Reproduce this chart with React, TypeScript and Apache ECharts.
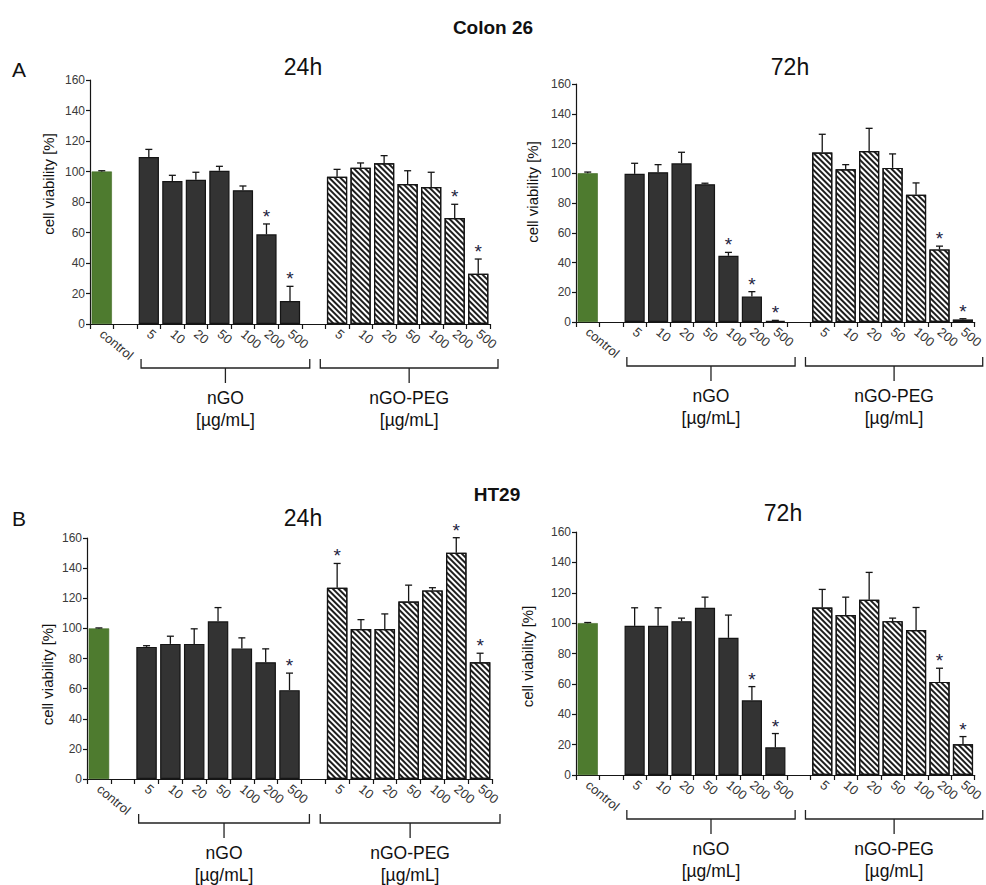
import React, { useEffect, useRef } from 'react';
import * as echarts from 'echarts';

// ---------- data ----------
const categories = ['control', '', '5', '10', '20', '50', '100', '200', '500', '', '5', '10', '20', '50', '100', '200', '500'];
const groupNames = ['nGO', 'nGO-PEG'];
const unitLabel = '[µg/mL]';
const yTicks = [0, 20, 40, 60, 80, 100, 120, 140, 160];

// Colon 26, 24h
const colon24Control = [100, 0.5];
const colon24NGO = [109.5, 93.8, 94.6, 100.5, 87.7, 58.8, 15.1];
const colon24NGOErr = [5, 3.7, 4.9, 2.9, 2.8, 6.8, 9.6];
const colon24NGOSig = [0, 0, 0, 0, 0, 1, 1];
const colon24PEG = [96.6, 102.5, 105.4, 91.8, 89.8, 69.5, 33];
const colon24PEGErr = [4.8, 3.1, 5, 8.7, 9.7, 9, 9.6];
const colon24PEGSig = [0, 0, 0, 0, 0, 1, 1];

// Colon 26, 72h
const colon72Control = [100, 0.8];
const colon72NGO = [99.6, 100.7, 106.7, 92.6, 44.5, 17.2, 0.8];
const colon72NGOErr = [7.1, 5.1, 7.4, 0.7, 2.3, 3.2, 0.3];
const colon72NGOSig = [0, 0, 0, 0, 1, 1, 1];
const colon72PEG = [113.9, 102.7, 115, 103.6, 85.5, 48.8, 1.6];
const colon72PEGErr = [12.3, 3.1, 15.2, 9.4, 8, 2.2, 0.6];
const colon72PEGSig = [0, 0, 0, 0, 0, 1, 1];

// HT29, 24h
const ht24Control = [100, 0.3];
const ht24NGO = [87.7, 89.7, 89.7, 104.7, 86.6, 77.5, 59];
const ht24NGOErr = [0.8, 5.1, 10, 9.1, 7.1, 8.9, 11.3];
const ht24NGOSig = [0, 0, 0, 0, 0, 0, 1];
const ht24PEG = [126.9, 99.6, 99.6, 117.8, 125.2, 150.2, 77.5];
const ht24PEGErr = [16.2, 6.2, 10, 10.9, 1.8, 10, 6];
const ht24PEGSig = [1, 0, 0, 0, 0, 1, 1];

// HT29, 72h
const ht72Control = [100, 0.4];
const ht72NGO = [98.2, 98.2, 101.3, 110.1, 90.3, 49.2, 18.2];
const ht72NGOErr = [11.9, 11.9, 2, 7, 15, 9, 9.1];
const ht72NGOSig = [0, 0, 0, 0, 0, 1, 1];
const ht72PEG = [110.3, 105.3, 115.4, 101.3, 95.4, 61.3, 20.2];
const ht72PEGErr = [11.9, 11.8, 18, 2, 14.9, 9, 5.1];
const ht72PEGSig = [0, 0, 0, 0, 0, 1, 1];

// ---------- layout ----------
const FONT = '"Liberation Sans", Arial, Helvetica, sans-serif';
const GREEN = '#4e7b2f';
const DARK = '#333333';
const EDGE = '#151515';

const panels = [
  {
    title: '24h', titleX: 303, titleY: 67,
    grid: { left: 90, top: 80, width: 400, height: 244 }, nameGap: 34, namePad: [0, 0, 0, 36],
    control: colon24Control, ngo: colon24NGO, ngoErr: colon24NGOErr, ngoSig: colon24NGOSig,
    peg: colon24PEG, pegErr: colon24PEGErr, pegSig: colon24PEGSig,
  },
  {
    title: '72h', titleX: 790, titleY: 67,
    grid: { left: 576, top: 84, width: 400, height: 238 }, nameGap: 36, namePad: [0, 0, 0, 22],
    control: colon72Control, ngo: colon72NGO, ngoErr: colon72NGOErr, ngoSig: colon72NGOSig,
    peg: colon72PEG, pegErr: colon72PEGErr, pegSig: colon72PEGSig,
  },
  {
    title: '24h', titleX: 303, titleY: 518,
    grid: { left: 87, top: 538, width: 405, height: 241 }, nameGap: 32, namePad: [0, 32, 0, 0],
    control: ht24Control, ngo: ht24NGO, ngoErr: ht24NGOErr, ngoSig: ht24NGOSig,
    peg: ht24PEG, pegErr: ht24PEGErr, pegSig: ht24PEGSig,
  },
  {
    title: '72h', titleX: 783, titleY: 513,
    grid: { left: 576, top: 532, width: 401, height: 243 }, nameGap: 41, namePad: [0, 6, 0, 0],
    control: ht72Control, ngo: ht72NGO, ngoErr: ht72NGOErr, ngoSig: ht72NGOSig,
    peg: ht72PEG, pegErr: ht72PEGErr, pegSig: ht72PEGSig,
  },
];

const headings = [
  { text: 'Colon 26', x: 493, y: 27, bold: true, size: 19 },
  { text: 'HT29', x: 497, y: 494, bold: true, size: 19 },
  { text: 'A', x: 19, y: 69, bold: false, size: 21 },
  { text: 'B', x: 19, y: 518, bold: false, size: 21 },
];

const NGO_START = 2;
const PEG_START = 10;

function buildOption() {
  const grid: any[] = [];
  const xAxis: any[] = [];
  const yAxis: any[] = [];
  const series: any[] = [];

  panels.forEach((p, k) => {
    grid.push({ ...p.grid, containLabel: false });
    xAxis.push({
      gridIndex: k,
      type: 'category',
      data: categories,
      axisLine: { lineStyle: { color: EDGE, width: 1.2 } },
      axisTick: { show: true, length: 5, interval: 0, alignWithLabel: false, lineStyle: { color: EDGE, width: 1.2 } },
      axisLabel: { interval: 0, rotate: -40, fontSize: 13, color: '#333', margin: 8, fontFamily: FONT },
      splitLine: { show: false },
    });
    yAxis.push({
      gridIndex: k,
      type: 'value',
      min: yTicks[0],
      max: yTicks[yTicks.length - 1],
      interval: yTicks[1] - yTicks[0],
      name: 'cell viability [%]',
      nameLocation: 'middle',
      nameGap: p.nameGap,
      nameTextStyle: { fontSize: 15, color: '#111', fontFamily: FONT, padding: p.namePad },
      axisLine: { show: true, lineStyle: { color: EDGE, width: 1.2 } },
      axisTick: { show: true, length: 4, lineStyle: { color: EDGE, width: 1.2 } },
      axisLabel: { fontSize: 12, color: '#3a3a3a', margin: 5, fontFamily: FONT },
      splitLine: { show: false },
    });

    const ctrlData = categories.map((_, i) => (i === 0 ? p.control[0] : '-'));
    const ngoData = categories.map((_, i) =>
      i >= NGO_START && i < NGO_START + p.ngo.length ? p.ngo[i - NGO_START] : '-'
    );
    const pegData = categories.map((_, i) =>
      i >= PEG_START && i < PEG_START + p.peg.length ? p.peg[i - PEG_START] : '-'
    );
    const common = {
      type: 'bar',
      xAxisIndex: k,
      yAxisIndex: k,
      barGap: '-100%',
      barCategoryGap: '14%',
      silent: true,
    };
    series.push({
      ...common,
      name: 'control',
      data: ctrlData,
      itemStyle: { color: GREEN, borderColor: '#3f6a22', borderWidth: 0.6 },
    });
    series.push({
      ...common,
      name: 'nGO',
      data: ngoData,
      itemStyle: { color: DARK, borderColor: EDGE, borderWidth: 1.2 },
    });
    series.push({
      ...common,
      name: 'nGO-PEG',
      data: pegData,
      itemStyle: {
        color: '#ffffff',
        borderColor: EDGE,
        borderWidth: 1.2,
        decal: {
          symbol: 'rect',
          symbolSize: 1,
          dashArrayX: [1, 0],
          dashArrayY: [1.6, 1.4],
          rotation: Math.PI / 4,
          color: '#1e1e1e',
          backgroundColor: '#ffffff',
        },
      },
    });

    const errData: any[] = [[0, p.control[0], p.control[1], 0]];
    p.ngo.forEach((v, i) => errData.push([NGO_START + i, v, p.ngoErr[i], p.ngoSig[i]]));
    p.peg.forEach((v, i) => errData.push([PEG_START + i, v, p.pegErr[i], p.pegSig[i]]));

    series.push({
      type: 'custom',
      xAxisIndex: k,
      yAxisIndex: k,
      clip: false,
      silent: true,
      z: 5,
      data: errData,
      renderItem: (params: any, api: any) => {
        const x = api.value(0);
        const v = api.value(1);
        const e = api.value(2);
        const sig = api.value(3);
        const base = api.coord([x, v]);
        const top = api.coord([x, v + e]);
        const cap = 3.5;
        const children: any[] = [
          {
            type: 'line',
            shape: { x1: base[0], y1: base[1], x2: top[0], y2: top[1] },
            style: { stroke: EDGE, lineWidth: 1.3 },
          },
          {
            type: 'line',
            shape: { x1: top[0] - cap, y1: top[1], x2: top[0] + cap, y2: top[1] },
            style: { stroke: EDGE, lineWidth: 1.3 },
          },
        ];
        if (sig) {
          children.push({
            type: 'text',
            x: top[0],
            y: top[1] + 2,
            style: {
              text: '*',
              fontSize: 19,
              fontFamily: FONT,
              fill: '#1d2340',
              align: 'center',
              verticalAlign: 'bottom',
            },
          });
        }
        return { type: 'group', children };
      },
    });
  });

  return {
    animation: false,
    backgroundColor: '#ffffff',
    textStyle: { fontFamily: FONT },
    grid,
    xAxis,
    yAxis,
    series,
  };
}

function buildGraphics(chart: any) {
  const g: any[] = [];
  headings.forEach((h) => {
    g.push({
      type: 'text',
      x: h.x,
      y: h.y,
      style: {
        text: h.text,
        fontSize: h.size,
        fontWeight: h.bold ? 'bold' : 'normal',
        fontFamily: FONT,
        fill: '#111',
        align: 'center',
        verticalAlign: 'middle',
      },
    });
  });
  panels.forEach((p, k) => {
    g.push({
      type: 'text',
      x: p.titleX,
      y: p.titleY,
      style: { text: p.title, fontSize: 23, fontFamily: FONT, fill: '#111', align: 'center', verticalAlign: 'middle' },
    });
    const y0 = chart.convertToPixel({ yAxisIndex: k }, 0);
    const band = p.grid.width / categories.length;
    const c = (i: number) => chart.convertToPixel({ xAxisIndex: k }, i);
    const ranges = [
      [c(NGO_START) - band / 2 + 4, c(NGO_START + 6) + band / 2 + 8],
      [c(PEG_START) - band / 2 - 5, c(PEG_START + 6) + band / 2 + 8],
    ];
    ranges.forEach(([L, R], gi) => {
      const C = (L + R) / 2;
      g.push({
        type: 'polyline',
        shape: { points: [[L, y0 + 35], [L, y0 + 44], [R, y0 + 44], [R, y0 + 35]] },
        style: { stroke: '#222', lineWidth: 1.3, fill: null },
      });
      g.push({
        type: 'line',
        shape: { x1: C, y1: y0 + 44, x2: C, y2: y0 + 59 },
        style: { stroke: '#222', lineWidth: 1.3 },
      });
      g.push({
        type: 'text',
        x: C,
        y: y0 + 74,
        style: { text: groupNames[gi], fontSize: 17.5, fontFamily: FONT, fill: '#111', align: 'center', verticalAlign: 'middle' },
      });
      g.push({
        type: 'text',
        x: C,
        y: y0 + 96,
        style: { text: unitLabel, fontSize: 17.5, fontFamily: FONT, fill: '#111', align: 'center', verticalAlign: 'middle' },
      });
    });
  });
  return g;
}

export default function App() {
  const ref = useRef<HTMLDivElement>(null);
  useEffect(() => {
    if (!ref.current) return;
    const chart = echarts.init(ref.current, undefined, { renderer: 'svg' });
    chart.setOption(buildOption() as any);
    chart.setOption({ graphic: buildGraphics(chart) } as any);
    return () => chart.dispose();
  }, []);
  return (
    <div
      ref={ref}
      style={{ position: 'fixed', left: 0, top: 0, width: 986, height: 885, background: '#fff' }}
    />
  );
}
